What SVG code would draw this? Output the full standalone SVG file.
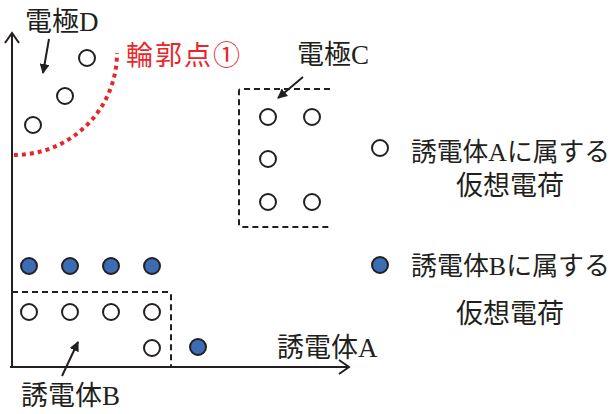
<svg xmlns="http://www.w3.org/2000/svg" width="614" height="414" viewBox="0 0 614 414">
<defs>
<style>
text{font-family:"Liberation Serif","Noto Sans CJK JP",serif;font-size:27px;fill:#231f20}
.oc{fill:#fff;stroke:#231f20;stroke-width:2}
.bc{fill:#3b6cb4;stroke:#231f20;stroke-width:2}
.dash{fill:none;stroke:#231f20;stroke-width:2;stroke-dasharray:6 4}
.ax{fill:none;stroke:#231f20;stroke-width:2}
.ptr{stroke:#231f20;stroke-width:2;marker-end:url(#ah)}
</style>
<marker id="ah" viewBox="0 0 10 10" refX="9" refY="5" markerWidth="5" markerHeight="5" orient="auto" markerUnits="strokeWidth">
<path d="M0,0L10,5L0,10z" fill="#231f20"/>
</marker>
</defs>
<g id="connectors">
<path class="ax" d="M12,368V33M5,43L12,33L19,43"/>
<path class="ax" d="M10,367H349M339,360L349,367L339,374"/>
<path d="M14,155A103,102 0 0 0 117,53" fill="none" stroke="#e8262a" stroke-width="4" stroke-dasharray="4 4"/>
<line class="ptr" x1="49" y1="39" x2="43" y2="73"/>
<line class="ptr" x1="303" y1="77" x2="278" y2="98"/>
<line class="ptr" x1="62" y1="376" x2="78" y2="342"/>
</g>
<g id="electrodeD">
<circle class="oc" cx="87" cy="58" r="8"/>
<circle class="oc" cx="65" cy="96" r="8"/>
<circle class="oc" cx="33" cy="125" r="8"/>
<text x="25" y="31">電極D</text>
</g>
<g id="contour">
<text x="126" y="65" style="fill:#e8262a;font-family:'Noto Sans CJK JP',sans-serif;letter-spacing:2px">輪郭点①</text>
</g>
<g id="electrodeC">
<path class="dash" d="M330,89H241Q239,89 239,91V225Q239,227 241,227H330"/>
<circle class="oc" cx="268" cy="117" r="8"/>
<circle class="oc" cx="312" cy="117" r="8"/>
<circle class="oc" cx="268" cy="159" r="8"/>
<circle class="oc" cx="268" cy="202" r="8"/>
<circle class="oc" cx="312" cy="202" r="8"/>
<text x="297" y="64">電極C</text>
</g>
<g id="dielectricB-charges">
<circle class="bc" cx="29" cy="266" r="8"/>
<circle class="bc" cx="70" cy="266" r="8"/>
<circle class="bc" cx="111" cy="266" r="8"/>
<circle class="bc" cx="152" cy="266" r="8"/>
<circle class="bc" cx="198" cy="347" r="8"/>
</g>
<g id="dielectricB">
<path class="dash" d="M12,292H169Q171,292 171,294V367"/>
<circle class="oc" cx="29" cy="312" r="8"/>
<circle class="oc" cx="70" cy="312" r="8"/>
<circle class="oc" cx="111" cy="312" r="8"/>
<circle class="oc" cx="152" cy="312" r="8"/>
<circle class="oc" cx="152" cy="348" r="8"/>
<text x="21" y="405">誘電体B</text>
</g>
<g id="dielectricA">
<text x="277" y="357">誘電体A</text>
</g>
<g id="legendA">
<circle class="oc" cx="380" cy="148" r="8"/>
<text x="411" y="161" style="font-size:26px" textLength="199" lengthAdjust="spacingAndGlyphs">誘電体Aに属する</text>
<text x="510" y="195" text-anchor="middle">仮想電荷</text>
</g>
<g id="legendB">
<circle class="bc" cx="380" cy="265" r="8"/>
<text x="411" y="275" style="font-size:26px" textLength="199" lengthAdjust="spacingAndGlyphs">誘電体Bに属する</text>
<text x="510" y="323" text-anchor="middle">仮想電荷</text>
</g>
</svg>
